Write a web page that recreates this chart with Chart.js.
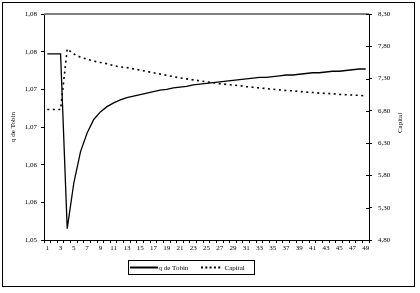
<!DOCTYPE html>
<html>
<head>
<meta charset="utf-8">
<script src="https://cdn.jsdelivr.net/npm/chart.js@4.4.0/dist/chart.umd.min.js"></script>
<style>
  html, body { margin: 0; padding: 0; background: #fff; }
  #wrap { width: 420px; height: 293px; }
</style>
</head>
<body>
<div id="wrap"><canvas id="chart" width="420" height="293"></canvas></div>
<script>
const periods = [
  "1", "2", "3", "4", "5", "6", "7", "8", "9", "10",
  "11", "12", "13", "14", "15", "16", "17", "18", "19", "20",
  "21", "22", "23", "24", "25", "26", "27", "28", "29", "30",
  "31", "32", "33", "34", "35", "36", "37", "38", "39", "40",
  "41", "42", "43", "44", "45", "46", "47", "48", "49"
];

const qTobin = [
  1.0747, 1.0747, 1.0747, 1.0515, 1.0576, 1.0617, 1.0642, 1.0660, 1.0670, 1.0677,
  1.0682, 1.0686, 1.0689, 1.0691, 1.0693, 1.0695, 1.0697, 1.0699, 1.0700, 1.0702,
  1.0703, 1.0704, 1.0706, 1.0707, 1.0708, 1.0709, 1.0710, 1.0711, 1.0712, 1.0713,
  1.0714, 1.0715, 1.0716, 1.0716, 1.0717, 1.0718, 1.0719, 1.0719, 1.0720, 1.0721,
  1.0722, 1.0722, 1.0723, 1.0724, 1.0724, 1.0725, 1.0726, 1.0727, 1.0727
];

const capital = [
  6.82, 6.82, 6.82, 7.76, 7.68, 7.63, 7.60, 7.57, 7.55, 7.53,
  7.50, 7.48, 7.47, 7.45, 7.43, 7.41, 7.39, 7.37, 7.35, 7.33,
  7.31, 7.295, 7.28, 7.265, 7.25, 7.235, 7.22, 7.21, 7.20, 7.19,
  7.175, 7.165, 7.155, 7.145, 7.135, 7.125, 7.115, 7.11, 7.10, 7.09,
  7.085, 7.075, 7.07, 7.065, 7.055, 7.05, 7.045, 7.04, 7.03
];

// marcas de los ejes (valor y texto tal como aparecen)
const qTickValues = [1.05, 1.055, 1.06, 1.065, 1.07, 1.075, 1.08];
const qTickLabels = ["1,05", "1,06", "1,06", "1,07", "1,07", "1,08", "1,08"];
const capitalTickValues = [4.8, 5.3, 5.8, 6.3, 6.8, 7.3, 7.8, 8.3];
const capitalTickLabels = ["4,80", "5,30", "5,80", "6,30", "6,80", "7,30", "7,80", "8,30"];

const FONT = "'Liberation Serif', 'DejaVu Serif', serif";
const tickFont = { family: FONT, size: 7 };

// fondo, marco exterior, borde superior gris, título derecho y leyenda
const framePlugin = {
  id: "frame",
  beforeDraw(chart) {
    const ctx = chart.ctx;
    ctx.save();
    ctx.fillStyle = "#fff";
    ctx.fillRect(0, 0, chart.width, chart.height);
    ctx.restore();
  },
  afterDraw(chart) {
    const ctx = chart.ctx;
    const area = chart.chartArea;
    ctx.save();

    // marco exterior
    ctx.strokeStyle = "#000";
    ctx.lineWidth = 1;
    ctx.strokeRect(2.5, 2.5, 412, 284);

    // borde superior del área de trazado
    ctx.strokeStyle = "#808080";
    ctx.lineWidth = 2;
    ctx.beginPath();
    ctx.moveTo(area.left, area.top);
    ctx.lineTo(area.right, area.top);
    ctx.stroke();

    // marcas interiores del eje derecho
    const y1 = chart.scales.y1;
    ctx.strokeStyle = "#000";
    ctx.lineWidth = 1;
    y1.ticks.forEach((t) => {
      const py = Math.round(y1.getPixelForValue(t.value)) + 0.5;
      ctx.beginPath();
      ctx.moveTo(area.right - 3, py);
      ctx.lineTo(area.right, py);
      ctx.stroke();
    });

    // título del eje derecho
    ctx.fillStyle = "#000";
    ctx.font = "7px " + FONT;
    ctx.textAlign = "center";
    ctx.textBaseline = "middle";
    ctx.translate(400, 123);
    ctx.rotate(-Math.PI / 2);
    ctx.fillText("Capital", 0, 0);
    ctx.setTransform(1, 0, 0, 1, 0, 0);

    // leyenda
    const ds = chart.data.datasets;
    const ly = 267.5;
    ctx.strokeStyle = "#000";
    ctx.lineWidth = 1;
    ctx.strokeRect(128.5, 260.5, 126, 14);

    ctx.lineWidth = 2;
    ctx.setLineDash([]);
    ctx.beginPath();
    ctx.moveTo(130, ly);
    ctx.lineTo(158, ly);
    ctx.stroke();

    ctx.setLineDash([2, 2.3]);
    ctx.beginPath();
    ctx.moveTo(201, ly);
    ctx.lineTo(221, ly);
    ctx.stroke();
    ctx.setLineDash([]);

    ctx.textAlign = "left";
    ctx.fillText(ds[0].label, 158.5, ly + 0.5);
    ctx.fillText(ds[1].label, 224.5, ly + 0.5);
    ctx.restore();
  },
};

const ctx = document.getElementById("chart").getContext("2d");
new Chart(ctx, {
  type: "line",
  data: {
    labels: periods,
    datasets: [
      {
        label: "q de Tobin",
        data: qTobin,
        yAxisID: "y",
        borderColor: "#000",
        borderWidth: 1.3,
        pointRadius: 0,
        tension: 0,
      },
      {
        label: "Capital",
        data: capital,
        yAxisID: "y1",
        borderColor: "#000",
        borderWidth: 1.6,
        borderDash: [2, 3.5],
        pointRadius: 0,
        tension: 0,
      },
    ],
  },
  options: {
    responsive: false,
    animation: false,
    layout: { padding: { top: 14, left: 0, right: 0, bottom: 0 } },
    plugins: {
      legend: { display: false },
      tooltip: { enabled: false },
    },
    scales: {
      x: {
        type: "category",
        offset: true,
        grid: {
          display: true,
          offset: true,
          drawOnChartArea: false,
          drawTicks: true,
          tickLength: 3,
          color: "#000",
        },
        border: { display: true, color: "#000", width: 1 },
        ticks: {
          autoSkip: false,
          maxRotation: 0,
          minRotation: 0,
          padding: 1,
          color: "#000",
          font: tickFont,
          callback: (v, i) => (i % 2 === 0 ? periods[i] : ""),
        },
        afterFit: (s) => {
          s.height = 53;
        },
      },
      y: {
        position: "left",
        min: 1.05,
        max: 1.08,
        grid: { display: true, drawOnChartArea: false, tickLength: 3, color: "#000" },
        border: { display: true, color: "#000", width: 1 },
        afterBuildTicks: (s) => {
          s.ticks = qTickValues.map((v) => ({ value: v }));
        },
        ticks: {
          padding: 4,
          color: "#000",
          font: tickFont,
          callback: (v, i) => qTickLabels[i],
        },
        title: {
          display: true,
          text: "q de Tobin",
          color: "#000",
          font: tickFont,
          padding: { top: 9, bottom: 0 },
        },
        afterFit: (s) => {
          s.width = 44;
        },
      },
      y1: {
        position: "right",
        min: 4.8,
        max: 8.3,
        grid: { display: true, drawOnChartArea: false, tickLength: 3, color: "#000" },
        border: { display: true, color: "#000", width: 1 },
        afterBuildTicks: (s) => {
          s.ticks = capitalTickValues.map((v) => ({ value: v }));
        },
        ticks: {
          padding: 6,
          color: "#000",
          font: tickFont,
          callback: (v, i) => capitalTickLabels[i],
        },
        afterFit: (s) => {
          s.width = 51;
        },
      },
    },
  },
  plugins: [framePlugin],
});
</script>
</body>
</html>
